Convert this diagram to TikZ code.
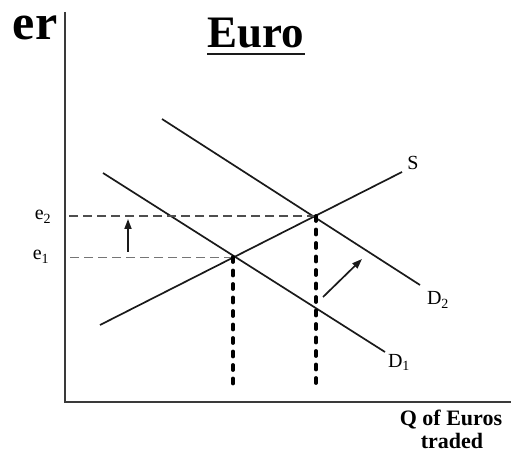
\documentclass[tikz,border=0pt]{standalone}
\usepackage{fontspec}
\setmainfont{Liberation Serif}
\usepackage{tikz}
\usetikzlibrary{calc,arrows.meta,positioning}
\definecolor{inkx}{HTML}{1A1A1A}
\definecolor{axisx}{HTML}{3A3A3A}
\tikzset{
  axisline/.style={line width=2.6pt,axisx},
  curve/.style={line width=1.7pt,inkx},
  guide/.style={line width=1.5pt,axisx!90,dash pattern=on 9pt off 5pt},
  thinguide/.style={line width=0.8pt,axisx!70,dash pattern=on 9pt off 5pt},
  dropline/.style={line width=3.8pt,black,line cap=round,dash pattern=on 5pt off 8.5pt},
  ar/.style={-{Triangle[length=10pt,width=7pt]},line width=1.7pt,inkx},
  lbl/.style={font=\fontsize{20}{22}\selectfont,inner sep=0pt,anchor=base}
}
\begin{document}
\begin{tikzpicture}[x=1pt,y=-1pt]
\useasboundingbox (0,0) rectangle (514,462);
% axes
\coordinate (ytop) at (65,12);
\coordinate (O) at (65,402);
\coordinate (xend) at (511,402);
\draw[axisline] (ytop) -- (O) -- (xend);
% equilibria
\coordinate (e1) at (233,257);
\coordinate (e2) at (316,216);
% supply and demand
\coordinate (S0) at (100,325);\coordinate (S1) at (402,172);
\coordinate (Da0) at (103,173);\coordinate (Da1) at (385,352);
\coordinate (Db0) at (162,119);\coordinate (Db1) at (420,285);
\draw[curve] (S0) -- (S1);
\draw[curve] (Da0) -- (Da1);
\draw[curve] (Db0) -- (Db1);
\node[lbl] (Slab) at (413,170) {S};
\node[lbl] (D2lab) at (438,305) {D\textsubscript{2}};
\node[lbl] (D1lab) at (399,367) {D\textsubscript{1}};
% price guides
\draw[guide,shorten >=3pt] (e2) -- (e2 -| O);
\draw[thinguide,shorten >=3pt] (e1) -- (e1 -| O);
\node[lbl] (e2lab) at (43,220) {e\textsubscript{2}};
\node[lbl] (e1lab) at (41,260) {e\textsubscript{1}};
% quantity drops
\draw[dropline,shorten >=11pt] (e1) -- (e1 |- O);
\draw[dropline,shorten >=11pt] (e2) -- (e2 |- O);
% shift arrows
\coordinate (up0) at (128,252);\coordinate (up1) at (128,219);
\coordinate (sh0) at (323,297);\coordinate (sh1) at (362,259);
\draw[ar] (up0) -- (up1);
\draw[ar] (sh0) -- (sh1);
% titles
\node[font=\bfseries\fontsize{50}{52}\selectfont,inner sep=0pt,anchor=base] (er) at (35,40) {er};
\node[font=\bfseries\fontsize{45}{47}\selectfont,inner sep=0pt,anchor=base] (euro) at (256,48) {Euro};
\draw[line width=2.6pt,inkx] ($(euro.base west)+(0,6)$) -- ($(euro.base east)+(0,6)$);
\node[font=\bfseries\fontsize{22}{24}\selectfont,inner sep=0pt,anchor=base] (qlab) at (451,425) {Q of Euros};
\node[font=\bfseries\fontsize{22}{24}\selectfont,inner sep=0pt,anchor=base] (tlab) at (452,448) {traded};
\end{tikzpicture}
\end{document}
